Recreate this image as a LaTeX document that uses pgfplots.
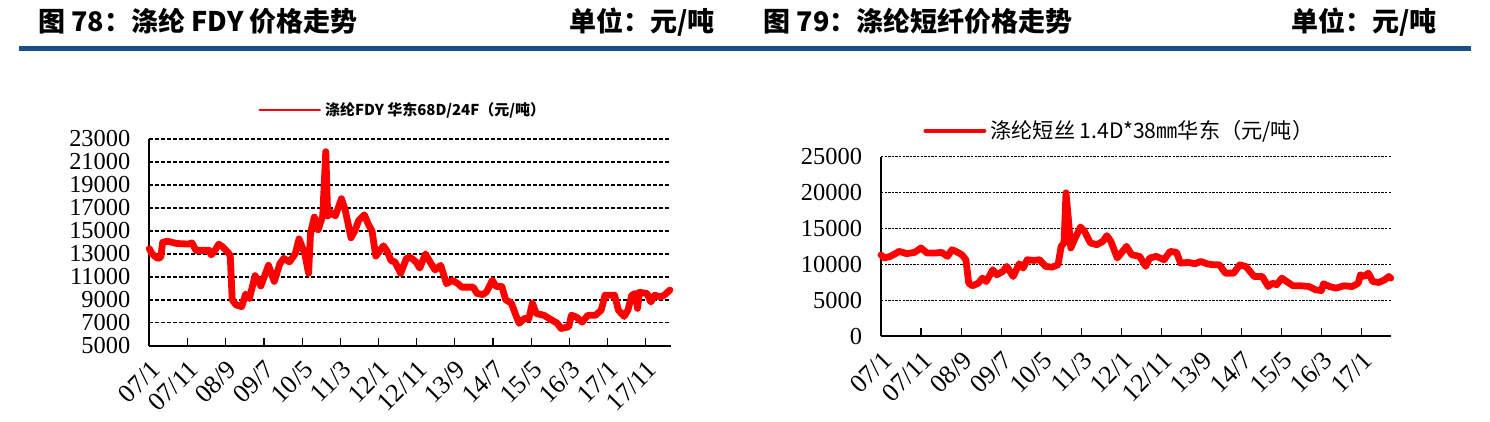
\documentclass[border=0pt]{standalone}
\usepackage{fontspec}
\setmainfont{Liberation Serif}
\newfontfamily\cjk{Noto Sans CJK SC}
\usepackage{pgfplots}
\pgfplotsset{compat=1.18}
\definecolor{titleblue}{RGB}{23,80,135}
\definecolor{lred}{RGB}{255,0,0}
\pgfplotsset{
  myax/.style={
    scale only axis,
    axis x line=bottom, axis y line=left,
    axis line style={-, line width=1bp, black},
    xmin=0,
    xtick={0,10,...,130},
    xticklabels={07/1,07/11,08/9,09/7,10/5,11/3,12/1,12/11,13/9,14/7,15/5,16/3,17/1,17/11},
    tick align=inside,
    major tick length=3.8bp,
    xtick style={line width=0.6bp, black},
    ytick style={draw=none},
    ymajorgrids,
    scaled y ticks=false,
    /pgf/number format/1000 sep={},
    /pgf/number format/assume math mode=true,
    y tick label style={font=\fontsize{12.2bp}{14bp}\selectfont, xshift=-6bp},
    x tick label style={font=\fontsize{13bp}{15bp}\selectfont, rotate=45, anchor=east, yshift=-9.2bp, xshift=-1.3bp},
    clip=false,
    legend style={draw=none, fill=none, inner sep=0pt, anchor=west},
  }
}
\begin{document}
\begin{tikzpicture}[x=0.5bp,y=-0.5bp]
\path[use as bounding box] (0,0) rectangle (1490,422);
\fill[titleblue] (19,46) rectangle (1471,50.7);
\node[anchor=base west, inner sep=0pt, font=\cjk\bfseries\fontsize{13.5bp}{15bp}\selectfont] at (38,32) {图 78：涤纶 FDY 价格走势};
\node[anchor=base east, inner sep=0pt, font=\cjk\bfseries\fontsize{13.5bp}{15bp}\selectfont] at (715,32) {单位：元/吨};
\node[anchor=base west, inner sep=0pt, font=\cjk\bfseries\fontsize{13.5bp}{15bp}\selectfont] at (763,32) {图 79：涤纶短纤价格走势};
\node[anchor=base east, inner sep=0pt, font=\cjk\bfseries\fontsize{13.5bp}{15bp}\selectfont] at (1437,32) {单位：元/吨};

\begin{axis}[myax,
  at={(74.65bp,-172.85bp)}, anchor=south west,
  width=260.7bp, height=103.35bp,
  xmax=136.5, ymin=5000, ymax=23000,
  ytick={5000,7000,...,23000},
  grid style={black, line width=0.75bp, dash pattern=on 2bp off 1bp},
  legend style={at={(axis description cs:0.2085,1.14)}, font=\cjk\bfseries\fontsize{7.5bp}{9bp}\selectfont},
  legend image code/.code={\draw[lred, line width=1.35bp] (0bp,0bp) -- (30bp,0bp);},
]
\addplot[lred, line width=3.4bp, line join=round, line cap=round] coordinates {
(0,13450) (0.7,13000) (2.2,12600) (3.0,12700) (3.5,14000) (4.7,14100) (7.2,13900) (10.2,13850)
(11.2,13950) (12.2,13300) (14.2,13300) (15.7,13300) (16.2,12900) (17.2,13300) (18.2,13850) (19.2,13600)
(20.7,13100) (21.2,12800) (21.7,9000) (22.7,8550) (24.2,8400) (25.2,9500) (26.2,9100) (27.7,11100)
(29.2,10200) (31.2,12000) (32.7,10600) (34.2,12150) (35.2,12600) (36.7,12300) (38.2,13000) (39.2,14300)
(40.7,13000) (41.7,11300) (42.2,14800) (43.2,16200) (44.2,15100) (45.4,16300) (46.2,21900) (46.7,16300)
(47.7,16600) (48.7,16300) (50.3,17800) (51.3,16800) (52.8,14400) (53.8,15000) (54.8,15900) (56.3,16400)
(57.3,15600) (58.3,15000) (59.3,12800) (61.3,13700) (62.3,13200) (63.3,12400) (64.3,12300) (65.8,11300)
(67.3,12600) (68.3,12700) (69.8,12300) (70.8,11750) (72.3,13000) (73.3,12400) (74.8,11600) (76.3,12000)
(77.8,10400) (79.3,10700) (80.8,10400) (81.8,10100) (84.8,10100) (85.8,9550) (87.3,9450) (88.3,9700)
(89.8,10700) (90.8,10150) (92.3,10150) (93.3,9000) (94.8,8700) (95.8,7800) (96.8,6950) (98.3,7400)
(99.3,7300) (100.3,8700) (101.3,7800) (103.3,7650) (105.3,7250) (106.8,6950) (107.8,6500) (109.8,6650)
(110.5,7650) (111.8,7500) (113.3,7050) (114.8,7650) (116.8,7650) (118.3,8100) (119.3,9400) (121.8,9400)
(122.8,8100) (124.3,7550) (125.3,8100) (126.3,9400) (127.3,9550) (127.8,8250) (128.3,9650) (130.3,9550)
(131.3,8800) (132.3,9400) (133.8,9250) (134.8,9400) (136.3,9850)
};
\addlegendentry{涤纶FDY 华东68D/24F（元/吨）}
\end{axis}

\begin{axis}[myax,
  at={(440.5bp,-168bp)}, anchor=south west,
  width=254.85bp, height=89.65bp,
  xmax=127.3, ymin=0, ymax=25000,
  ytick={0,5000,...,25000},
  grid style={black, line width=0.5bp, dash pattern=on 1.2bp off 0.6bp},
  legend style={at={(axis description cs:0.0824,1.145)}, font=\cjk\fontsize{10.6bp}{12bp}\selectfont},
  legend image code/.code={\draw[lred, line width=2bp, line cap=round] (0bp,0bp) -- (29.5bp,0bp);},
]
\addplot[lred, line width=3.4bp, line join=round, line cap=round] coordinates {
(0,11300) (0.8,10870) (2.3,11100) (3.9,11570) (4.4,11800) (5.4,11660) (6.4,11480) (8.4,11660)
(10.0,12270) (11.5,11570) (13.6,11570) (15.1,11660) (16.6,11100) (17.7,12030) (18.7,11800) (20.2,11330)
(21.2,10630) (21.9,7370) (22.8,7000) (24.3,7370) (25.3,8070) (26.3,7600) (27.9,9230) (28.9,8530)
(30.4,9000) (31.4,9700) (33.0,8300) (34.5,10070) (35.5,9470) (36.5,10630) (38.1,10540) (39.6,10630)
(41.1,9700) (42.7,9600) (44.2,9930) (45.0,12500) (45.7,12970) (46.2,19960) (46.8,16230) (47.4,12270)
(48.3,13430) (49.8,15200) (50.8,14600) (52.3,12970) (53.9,12730) (55.4,13200) (56.4,14000) (57.4,13200)
(59.0,10870) (60.0,11570) (61.3,12500) (62.6,11330) (64.6,11100) (66.1,9700) (67.1,10870) (68.7,11100)
(69.7,10870) (70.7,10630) (72.2,11800) (73.8,11660) (74.8,10170) (76.8,10260) (78.4,10070) (79.9,10400)
(81.4,10070) (82.9,9930) (84.5,9930) (86.0,8770) (88.1,8770) (89.6,9930) (91.1,9700) (93.2,8300)
(95.2,8300) (96.7,6900) (97.8,7370) (98.8,7140) (100.1,8070) (101.3,7600) (102.9,7000) (104.9,7000)
(106.9,6900) (108.5,6440) (110.0,6340) (110.5,7280) (112.0,6900) (113.6,6670) (115.6,7000) (117.7,6900)
(119.2,7370) (119.7,8530) (120.7,8300) (121.7,8770) (122.8,7600) (124.3,7460) (125.8,7840) (126.8,8300)
(127.3,8070)
};
\addlegendentry{涤纶短丝 1.4D*38㎜华东（元/吨）}
\end{axis}
\end{tikzpicture}
\end{document}
